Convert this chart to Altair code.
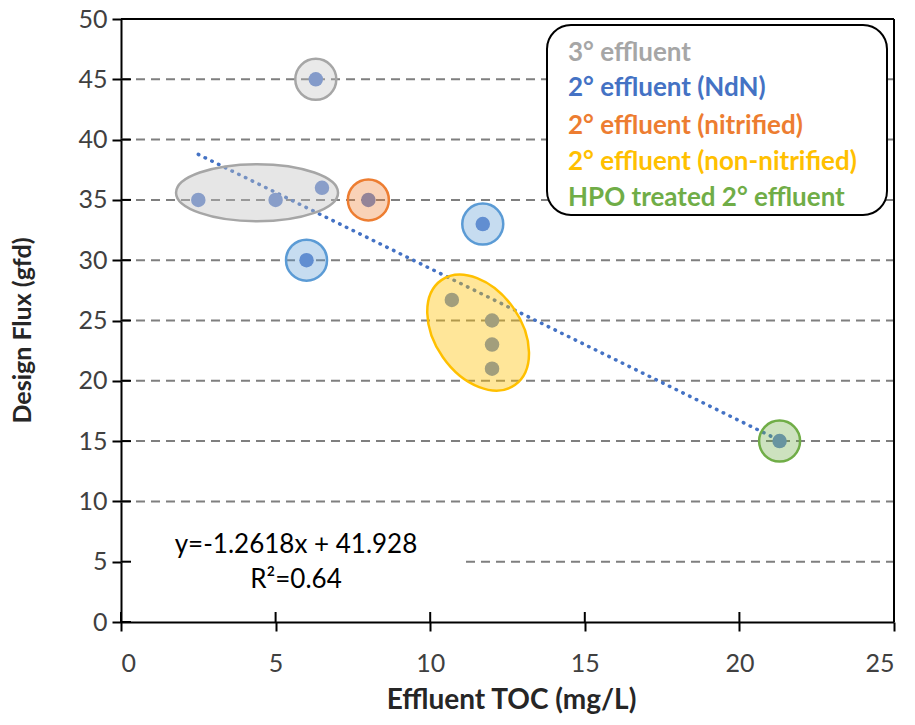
import altair as alt
import pandas as pd

# ---- data ----
toc = [2.5, 5.0, 6.5, 6.3, 8.0, 6.0, 11.7, 10.7, 12.0, 12.0, 12.0, 21.3]
flux = [35.0, 35.0, 36.0, 45.0, 35.0, 30.0, 33.0, 26.7, 25.0, 23.0, 21.0, 15.0]

slope = -1.2618
intercept = 41.928
trend_x = [2.5, 21.3]

x_ticks = [0, 5, 10, 15, 20, 25]
y_ticks = [0, 5, 10, 15, 20, 25, 30, 35, 40, 45, 50]
grid_y = [5, 10, 15, 20, 25, 30, 35, 40, 45]

circle_x = [6.3, 8.0, 6.0, 11.7, 21.3]
circle_y = [45.0, 35.0, 30.0, 33.0, 15.0]
circle_grp = ["tert", "nit", "ndn", "ndn", "hpo"]

gray_ell_x = [4.4]
gray_ell_y = [35.6]
yellow_ell_x = [11.55]
yellow_ell_y = [24.0]

legend_labels = ["3° effluent", "2° effluent (NdN)", "2° effluent (nitrified)",
                 "2° effluent (non-nitrified)", "HPO treated 2° effluent"]
legend_colors = ["#a6a6a6", "#4472c4", "#ed7d31", "#ffc000", "#70ad47"]

eq_lines = ["y=-1.2618x + 41.928", "R²=0.64"]

W, H = 773, 603
FONT = "Lato"

xs = alt.Scale(domain=[0, 25], nice=False, zero=True)
ys = alt.Scale(domain=[0, 50], nice=False, zero=True)

pts = pd.DataFrame({"toc": toc, "flux": flux})
trend = pd.DataFrame({"toc": trend_x, "flux": [slope * v + intercept for v in trend_x]})
grid = pd.DataFrame({"flux": grid_y})
circ = pd.DataFrame({"toc": circle_x, "flux": circle_y, "grp": circle_grp})
xt = pd.DataFrame({"toc": x_ticks})
yt = pd.DataFrame({"flux": y_ticks})
one = pd.DataFrame({"a": [0]})

x_axis = alt.Axis(values=x_ticks, title="Effluent TOC (mg/L)", labelPadding=20,
                  titleX=390, titleY=86, titleBaseline="alphabetic",
                  titleAlign="center", titleFontSize=28, grid=False)
y_axis = alt.Axis(values=y_ticks, title="Design Flux (gfd)", labelPadding=5,
                  titleX=-91, titleY=311, titleBaseline="alphabetic", titleAlign="center",
                  titleAngle=270, titleFontSize=25, grid=False)


def X():
    return alt.X("toc:Q", scale=xs, axis=x_axis)


def Y():
    return alt.Y("flux:Q", scale=ys, axis=y_axis)


gridlines = alt.Chart(grid).mark_rule(color="#7f7f7f", strokeWidth=2, strokeDash=[9, 6]).encode(
    x=alt.value(0), x2=alt.value(W), y=Y(),
)

eq_bg = alt.Chart(one).mark_rect(fill="white").encode(
    x=alt.value(2), x2=alt.value(340), y=alt.value(500), y2=alt.value(590)
)

trend_line = alt.Chart(trend).mark_line(
    color="#4472c4", strokeWidth=3.5, strokeDash=[0.5, 7], strokeCap="round"
).encode(x=X(), y=Y())

points = alt.Chart(pts).mark_circle(size=210, color="#6487cf", opacity=1).encode(x=X(), y=Y())

grp_dom = ["tert", "ndn", "nit", "hpo"]
circles = alt.Chart(circ).mark_point(
    shape="circle", size=1681, filled=True, fillOpacity=0.35, strokeOpacity=1,
    strokeWidth=2.5, opacity=1
).encode(
    x=X(), y=Y(),
    fill=alt.Fill("grp:N", scale=alt.Scale(domain=grp_dom,
                  range=["#c0c0c0", "#5b9bd5", "#ed7d31", "#70ad47"]), legend=None),
    stroke=alt.Stroke("grp:N", scale=alt.Scale(domain=grp_dom,
                      range=["#a6a6a6", "#5b9bd5", "#ed7d31", "#70ad47"]), legend=None),
)

gray_ell = alt.Chart(pd.DataFrame({"toc": gray_ell_x, "flux": gray_ell_y})).mark_point(
    shape="M -1 0 A 1 0.352 0 1 1 1 0 A 1 0.352 0 1 1 -1 0 Z",
    size=26244, filled=True, fill="#c0c0c0", fillOpacity=0.4, stroke="#a6a6a6",
    strokeOpacity=1, strokeWidth=2.5, opacity=1
).encode(x=X(), y=Y())

yellow_ell = alt.Chart(pd.DataFrame({"toc": yellow_ell_x, "flux": yellow_ell_y})).mark_point(
    shape="M 0 -1 A 0.672 1 0 1 1 0 1 A 0.672 1 0 1 1 0 -1 Z",
    size=16384, angle=325, filled=True, fill="#ffc000", fillOpacity=0.4, stroke="#ffc000",
    strokeOpacity=1, strokeWidth=2.5, opacity=1
).encode(x=X(), y=Y())

x_inner = alt.Chart(xt).mark_rule(color="black", strokeWidth=2).encode(
    x=X(), y=alt.value(H - 10), y2=alt.value(H)
)
y_inner = alt.Chart(yt).mark_rule(color="black", strokeWidth=2).encode(
    y=Y(), x=alt.value(0), x2=alt.value(10)
)
top_border = alt.Chart(one).mark_rule(color="black", strokeWidth=2).encode(
    x=alt.value(0), x2=alt.value(W), y=alt.value(0)
)
right_border = alt.Chart(one).mark_rule(color="black", strokeWidth=2).encode(
    x=alt.value(W), y=alt.value(0), y2=alt.value(H)
)

legend_box = alt.Chart(one).mark_rect(
    fill="white", stroke="black", strokeWidth=2, cornerRadius=24
).encode(x=alt.value(426), x2=alt.value(766), y=alt.value(6), y2=alt.value(196))

legend_ys = [42, 77, 115, 151, 187]
legend_layers = []
for lab, col, yy in zip(legend_labels, legend_colors, legend_ys):
    legend_layers.append(
        alt.Chart(one).mark_text(
            text=lab, font=FONT, fontSize=26, fontWeight="bold", color=col,
            align="left", baseline="alphabetic"
        ).encode(x=alt.value(447), y=alt.value(yy))
    )

eq_layers = []
for line, yy in zip(eq_lines, [534, 569]):
    eq_layers.append(
        alt.Chart(one).mark_text(
            text=line, font=FONT, fontSize=26, color="#000000",
            align="center", baseline="alphabetic"
        ).encode(x=alt.value(175), y=alt.value(yy))
    )

chart = alt.layer(
    gridlines, eq_bg, trend_line, points, gray_ell, yellow_ell, circles,
    x_inner, y_inner, top_border, right_border, legend_box, *legend_layers, *eq_layers
).properties(
    width=W, height=H,
    background="white",
    autosize=alt.AutoSizeParams(type="none"),
    padding={"left": 121, "top": 19, "right": 21, "bottom": 103},
).configure_view(
    stroke=None
).configure_axis(
    grid=False, labelFont=FONT, labelFontSize=25, labelColor="#404040",
    titleFont=FONT, titleFontWeight="bold", titleColor="#262626",
    domainColor="black", domainWidth=2, tickColor="black", tickWidth=2, tickSize=9,
)

chart.save("out.html", embed_options={"renderer": "svg", "actions": False})
